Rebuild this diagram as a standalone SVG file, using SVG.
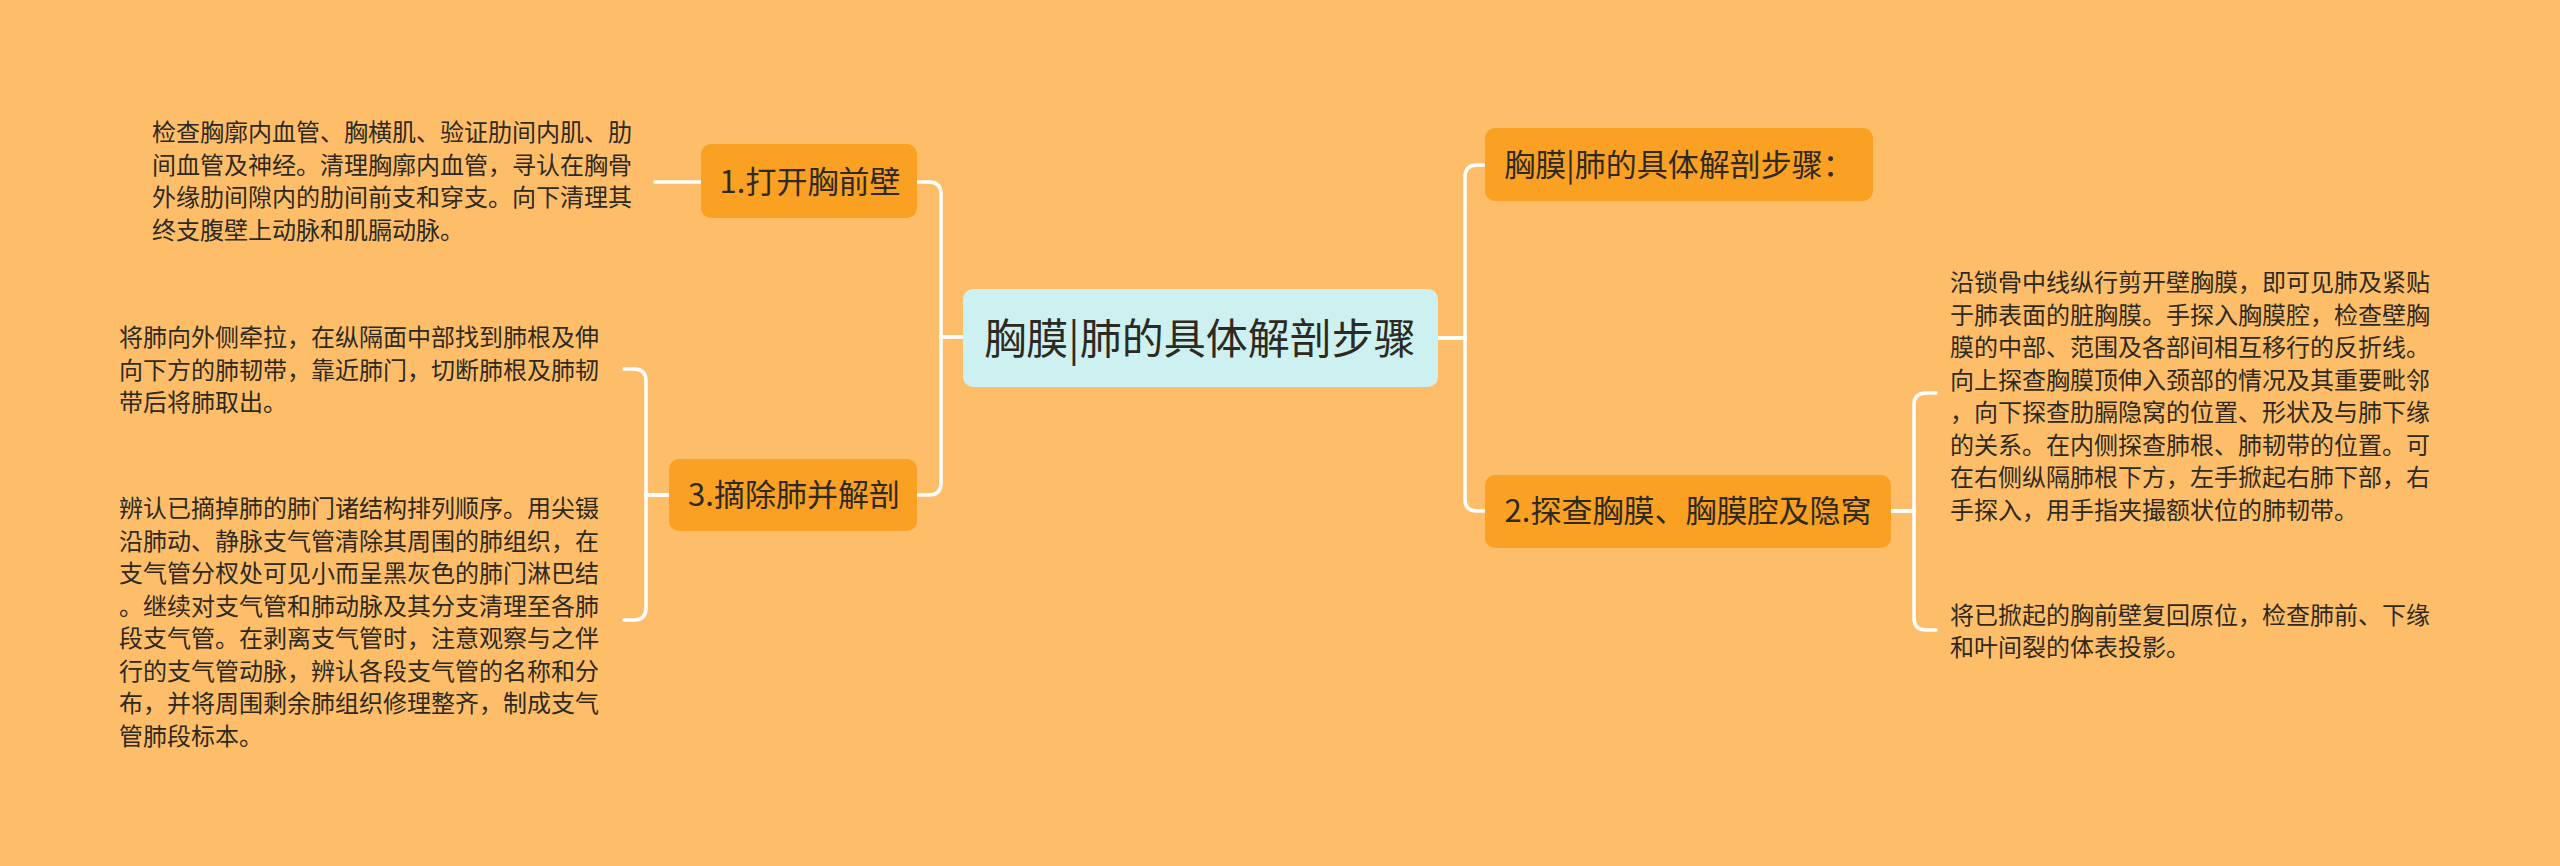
<svg xmlns="http://www.w3.org/2000/svg" width="2560" height="866" viewBox="0 0 2560 866">
<style>
.bg{fill:#FEBE69}
.root{fill:#CDF1F0}
.l1{fill:#FAA023}
.conn{fill:none;stroke:#FFFFFF;stroke-width:3.5;stroke-linecap:round}
text{font-family:"Noto Sans CJK SC","Noto Sans",sans-serif;fill:#2E2A22}
.t0{font-size:42px;text-anchor:middle}
.t1{font-size:31px;text-anchor:middle}
.t2{font-size:24px}
</style>
<rect class="bg" x="0" y="0" width="2560" height="866"/>
<g id="connectors">
<path class="conn" d="M655,182 H701"/>
<path class="conn" d="M963,337 H941 V194 Q941,182 929,182 H917"/>
<path class="conn" d="M963,337 H941 V483 Q941,495 929,495 H917"/>
<path class="conn" d="M669,495 H646 V381 Q646,369 634,369 H624"/>
<path class="conn" d="M669,495 H646 V608 Q646,620 634,620 H624"/>
<path class="conn" d="M1438,338 H1465 V177 Q1465,165 1477,165 H1485"/>
<path class="conn" d="M1438,338 H1465 V499 Q1465,511 1477,511 H1485"/>
<path class="conn" d="M1891,511 H1914 V405 Q1914,393 1926,393 H1936"/>
<path class="conn" d="M1891,511 H1914 V618 Q1914,630 1926,630 H1936"/>
</g>
<g id="root">
<rect class="root" x="963" y="289" width="475" height="98" rx="10"/>
<text class="t0" x="1200" y="354">胸膜|肺的具体解剖步骤</text>
</g>
<g id="n1">
<rect class="l1" x="701" y="144" width="216" height="74" rx="10"/>
<text class="t1" x="810" y="193">1.打开胸前壁</text>
</g>
<g id="n1-detail">
<text class="t2" x="152"><tspan x="152" y="141">检查胸廓内血管、胸横肌、验证肋间内肌、肋</tspan><tspan x="152" y="174">间血管及神经。清理胸廓内血管，寻认在胸骨</tspan><tspan x="152" y="206">外缘肋间隙内的肋间前支和穿支。向下清理其</tspan><tspan x="152" y="239">终支腹壁上动脉和肌膈动脉。</tspan></text>
</g>
<g id="n3">
<rect class="l1" x="669" y="459" width="248" height="72" rx="10"/>
<text class="t1" x="794" y="506">3.摘除肺并解剖</text>
</g>
<g id="n3-detail-a">
<text class="t2"><tspan x="119" y="346">将肺向外侧牵拉，在纵隔面中部找到肺根及伸</tspan><tspan x="119" y="379">向下方的肺韧带，靠近肺门，切断肺根及肺韧</tspan><tspan x="119" y="411">带后将肺取出。</tspan></text>
</g>
<g id="n3-detail-b">
<text class="t2"><tspan x="119" y="517">辨认已摘掉肺的肺门诸结构排列顺序。用尖镊</tspan><tspan x="119" y="550">沿肺动、静脉支气管清除其周围的肺组织，在</tspan><tspan x="119" y="582">支气管分杈处可见小而呈黑灰色的肺门淋巴结</tspan><tspan x="119" y="615">。继续对支气管和肺动脉及其分支清理至各肺</tspan><tspan x="119" y="647">段支气管。在剥离支气管时，注意观察与之伴</tspan><tspan x="119" y="680">行的支气管动脉，辨认各段支气管的名称和分</tspan><tspan x="119" y="712">布，并将周围剩余肺组织修理整齐，制成支气</tspan><tspan x="119" y="745">管肺段标本。</tspan></text>
</g>
<g id="nA">
<rect class="l1" x="1485" y="128" width="388" height="73" rx="10"/>
<text class="t1" x="1679" y="176">胸膜|肺的具体解剖步骤：</text>
</g>
<g id="n2">
<rect class="l1" x="1485" y="475" width="406" height="73" rx="10"/>
<text class="t1" x="1688" y="522">2.探查胸膜、胸膜腔及隐窝</text>
</g>
<g id="n2-detail-a">
<text class="t2"><tspan x="1950" y="291">沿锁骨中线纵行剪开壁胸膜，即可见肺及紧贴</tspan><tspan x="1950" y="324">于肺表面的脏胸膜。手探入胸膜腔，检查壁胸</tspan><tspan x="1950" y="356">膜的中部、范围及各部间相互移行的反折线。</tspan><tspan x="1950" y="389">向上探查胸膜顶伸入颈部的情况及其重要毗邻</tspan><tspan x="1950" y="421">，向下探查肋膈隐窝的位置、形状及与肺下缘</tspan><tspan x="1950" y="454">的关系。在内侧探查肺根、肺韧带的位置。可</tspan><tspan x="1950" y="486">在右侧纵隔肺根下方，左手掀起右肺下部，右</tspan><tspan x="1950" y="519">手探入，用手指夹撮额状位的肺韧带。</tspan></text>
</g>
<g id="n2-detail-b">
<text class="t2"><tspan x="1950" y="624">将已掀起的胸前壁复回原位，检查肺前、下缘</tspan><tspan x="1950" y="656">和叶间裂的体表投影。</tspan></text>
</g>
</svg>
